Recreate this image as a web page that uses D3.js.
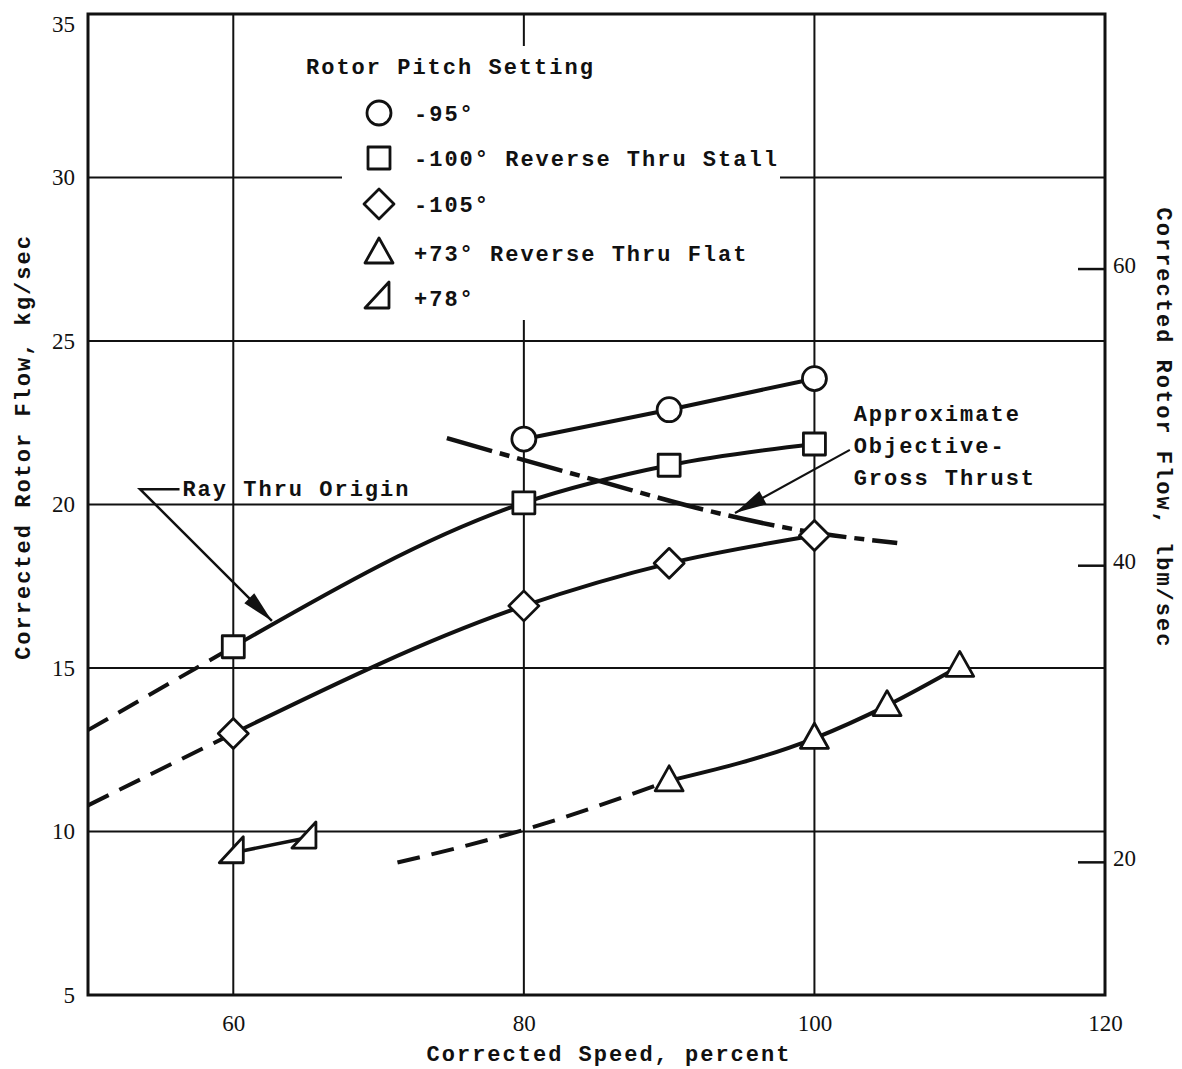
<!DOCTYPE html>
<html>
<head>
<meta charset="utf-8">
<script src="https://cdn.jsdelivr.net/npm/d3@7"></script>
<style>
  html, body { margin: 0; padding: 0; background: #fff; }
  svg { display: block; }
  .tw { font-family: "Liberation Mono", "DejaVu Sans Mono", monospace; font-weight: bold; font-size: 22px; letter-spacing: 2px; fill: #111; }
  .num { font-family: "Liberation Serif", "DejaVu Serif", serif; font-size: 23px; fill: #111; }
</style>
</head>
<body>
<svg id="chart" width="1182" height="1069"></svg>
<script>
// ---------------- data ----------------
const xTicks = [60, 80, 100, 120];
const yTicks = [5, 10, 15, 20, 25, 30, 35];
const yGrid = [10, 15, 20, 25, 30];
const xGrid = [60, 80, 100];
const lbTicks = [20, 40, 60];

// -95 deg (circles)
const c95X = [80, 90, 100];
const c95Y = [22.0, 22.9, 23.85];
// -100 deg (squares)
const s100X = [60, 80, 90, 100];
const s100Y = [15.65, 20.05, 21.2, 21.85];
const s100DashX = [50, 60];
const s100DashY = [13.1, 15.65];
// -105 deg (diamonds)
const d105X = [60, 80, 90, 100];
const d105Y = [13.0, 16.9, 18.2, 19.05];
const d105DashX = [50, 60];
const d105DashY = [10.8, 13.0];
// +73 deg (triangles)
const t73X = [90, 100, 105, 110];
const t73Y = [11.55, 12.85, 13.85, 15.05];
const t73DashX = [71.3, 80, 90];
const t73DashY = [9.05, 10.05, 11.55];
// +78 deg (right triangles)
const t78X = [60, 65];
const t78Y = [9.35, 9.8];
// Approximate objective gross thrust
const gtX = [74.7, 78.0, 85.4, 92.5, 98.9, 105.7];
const gtY = [22.03, 21.61, 20.69, 19.83, 19.22, 18.82];

const legendLabels = ["-95°", "-100° Reverse Thru Stall", "-105°", "+73° Reverse Thru Flat", "+78°"];
const legendShapes = ["circle", "square", "diamond", "triangle", "rtriangle"];

// ---------------- setup ----------------
const svg = d3.select("#chart");
const W = 1182, H = 1069;
const x = d3.scaleLinear().domain([50, 120]).range([88, 1105]);
const y = d3.scaleLinear().domain([5, 35]).range([995, 14]);
const KG_PER_LB = 0.45359237;

svg.append("rect").attr("width", W).attr("height", H).attr("fill", "#fff");

const ink = "#111";

// grid
const grid = svg.append("g");
grid.selectAll("line.h").data(yGrid).join("line")
  .attr("x1", x(50)).attr("x2", x(120))
  .attr("y1", d => y(d)).attr("y2", d => y(d))
  .attr("stroke", ink).attr("stroke-width", 2);
grid.selectAll("line.v").data(xGrid).join("line")
  .attr("y1", y(5)).attr("y2", y(35))
  .attr("x1", d => x(d)).attr("x2", d => x(d))
  .attr("stroke", ink).attr("stroke-width", 2);

// legend background (gap in grid)
svg.append("rect").attr("x", 342).attr("y", 46).attr("width", 438).attr("height", 274).attr("fill", "#fff");

// frame
svg.append("rect").attr("x", x(50)).attr("y", y(35))
  .attr("width", x(120) - x(50)).attr("height", y(5) - y(35))
  .attr("fill", "none").attr("stroke", ink).attr("stroke-width", 3);

// left axis labels
const left = d3.axisLeft(y).tickValues(yTicks).tickSize(0).tickPadding(13).tickFormat(d3.format("d"));
const gL = svg.append("g").attr("transform", `translate(${x(50)},0)`).call(left);
gL.select(".domain").remove();
gL.selectAll("text").attr("class", "num").attr("font-family", null).attr("font-size", null).attr("fill", null);
gL.selectAll(".tick").filter(d => d === 35).select("text").attr("dy", "0.75em");

// bottom axis labels
const bottom = d3.axisBottom(x).tickValues(xTicks).tickSize(0).tickPadding(20).tickFormat(d3.format("d"));
const gB = svg.append("g").attr("transform", `translate(0,${y(5)})`).call(bottom);
gB.select(".domain").remove();
gB.selectAll("text").attr("class", "num").attr("font-family", null).attr("font-size", null).attr("fill", null);

// right axis (lbm/sec)
const yLb = d3.scaleLinear().domain([5 / KG_PER_LB, 35 / KG_PER_LB]).range([995, 14]);
const right = d3.axisLeft(yLb).tickValues(lbTicks).tickSize(27).tickPadding(-44).tickFormat(d3.format("d"));
const gR = svg.append("g").attr("transform", `translate(${x(120)},0)`).call(right);
gR.select(".domain").remove();
gR.selectAll("line").attr("stroke", ink).attr("stroke-width", 2.5);
gR.selectAll("text").attr("class", "num").attr("font-family", null).attr("font-size", null).attr("fill", null)
  .attr("text-anchor", "start").attr("x", 8).attr("dy", "0.15em");

// axis titles
svg.append("text").attr("class", "tw").attr("text-anchor", "middle")
  .attr("transform", `translate(22,447) rotate(-90)`).attr("dy", "0.35em")
  .text("Corrected Rotor Flow, kg/sec");
svg.append("text").attr("class", "tw").attr("text-anchor", "middle")
  .attr("transform", `translate(1165,428) rotate(90)`).attr("dy", "0.35em")
  .text("Corrected Rotor Flow, lbm/sec");
svg.append("text").attr("class", "tw").attr("text-anchor", "middle")
  .attr("x", 609).attr("y", 1053).attr("dy", "0.35em")
  .text("Corrected Speed, percent");

// ---------------- curves ----------------
const line = d3.line().x(d => x(d[0])).y(d => y(d[1])).curve(d3.curveMonotoneX);
const zip = (a, b) => a.map((v, i) => [v, b[i]]);

function drawLine(xs, ys, dash, width) {
  svg.append("path").datum(zip(xs, ys)).attr("d", line)
    .attr("fill", "none").attr("stroke", ink).attr("stroke-width", width || 4)
    .attr("stroke-dasharray", dash || null).attr("stroke-linecap", "butt");
}
const dashExt = "23,12";
drawLine(s100DashX, s100DashY, dashExt);
drawLine(d105DashX, d105DashY, dashExt);
drawLine(t73DashX, t73DashY, dashExt);
drawLine(c95X, c95Y);
drawLine(s100X, s100Y);
drawLine(d105X, d105Y);
drawLine(t73X, t73Y);
drawLine(t78X, t78Y, null, 3.5);
drawLine(gtX, gtY, "47,8,10,8", 4.5);

// ---------------- markers ----------------
function shapePath(kind) {
  switch (kind) {
    case "circle": return "M12,0A12,12 0 1,1 -12,0A12,12 0 1,1 12,0Z";
    case "square": return "M-11,-11H11V11H-11Z";
    case "diamond": return "M0,-15L15,0L0,15L-15,0Z";
    case "triangle": return "M0,-15L14,10H-14Z";
    case "rtriangle": return "M10,-16V10H-14Z";
  }
}
function drawMarkers(xs, ys, kind) {
  svg.append("g").selectAll("path").data(zip(xs, ys)).join("path")
    .attr("transform", d => `translate(${x(d[0])},${y(d[1])})`)
    .attr("d", shapePath(kind))
    .attr("fill", "#fff").attr("stroke", ink).attr("stroke-width", 2.8)
    .attr("stroke-linejoin", "round");
}
drawMarkers(c95X, c95Y, "circle");
drawMarkers(s100X, s100Y, "square");
drawMarkers(d105X, d105Y, "diamond");
drawMarkers(t73X, t73Y, "triangle");
drawMarkers(t78X, t78Y, "rtriangle");

// ---------------- legend ----------------
const lg = svg.append("g");
lg.append("text").attr("class", "tw").attr("x", 306).attr("y", 66).attr("dy", "0.35em").text("Rotor Pitch Setting");
const rowY = [113, 158, 204, 253, 298];
legendLabels.forEach((lab, i) => {
  lg.append("path").attr("transform", `translate(379,${rowY[i]})`).attr("d", shapePath(legendShapes[i]))
    .attr("fill", "#fff").attr("stroke", ink).attr("stroke-width", 2.8).attr("stroke-linejoin", "round");
  lg.append("text").attr("class", "tw").attr("x", 414).attr("y", rowY[i]).attr("dy", "0.35em").text(lab);
});

// ---------------- annotations ----------------
// Ray Thru Origin
const rayKnee = [53.58, 20.47], rayEnd = [56.3, 20.47], rayTip = [62.66, 16.44];
svg.append("path")
  .attr("d", `M${x(rayEnd[0])},${y(rayEnd[1])}L${x(rayKnee[0])},${y(rayKnee[1])}L${x(rayTip[0])},${y(rayTip[1])}`)
  .attr("fill", "none").attr("stroke", ink).attr("stroke-width", 2.5);
svg.append("text").attr("class", "tw").attr("x", x(56.5)).attr("y", y(20.47)).attr("dy", "0.3em").text("Ray Thru Origin");

// Objective gross thrust
const gtStart = [102.44, 21.67], gtTip = [94.53, 19.74];
svg.append("line").attr("x1", x(gtStart[0])).attr("y1", y(gtStart[1])).attr("x2", x(gtTip[0])).attr("y2", y(gtTip[1]))
  .attr("stroke", ink).attr("stroke-width", 2.2);
["Approximate", "Objective-", "Gross Thrust"].forEach((t, i) => {
  svg.append("text").attr("class", "tw").attr("x", x(102.7)).attr("y", y(22.8) + i * 32).attr("dy", "0.35em").text(t);
});

// arrowheads
function arrowHead(from, to, len, half) {
  const x0 = x(from[0]), y0 = y(from[1]), x1 = x(to[0]), y1 = y(to[1]);
  const a = Math.atan2(y1 - y0, x1 - x0);
  const bx = x1 - len * Math.cos(a), by = y1 - len * Math.sin(a);
  const px = -Math.sin(a) * half, py = Math.cos(a) * half;
  svg.append("path").attr("d", `M${x1},${y1}L${bx + px},${by + py}L${bx - px},${by - py}Z`).attr("fill", ink);
}
arrowHead(rayKnee, rayTip, 32, 7);
arrowHead(gtStart, gtTip, 32, 7.5);
</script>
</body>
</html>
